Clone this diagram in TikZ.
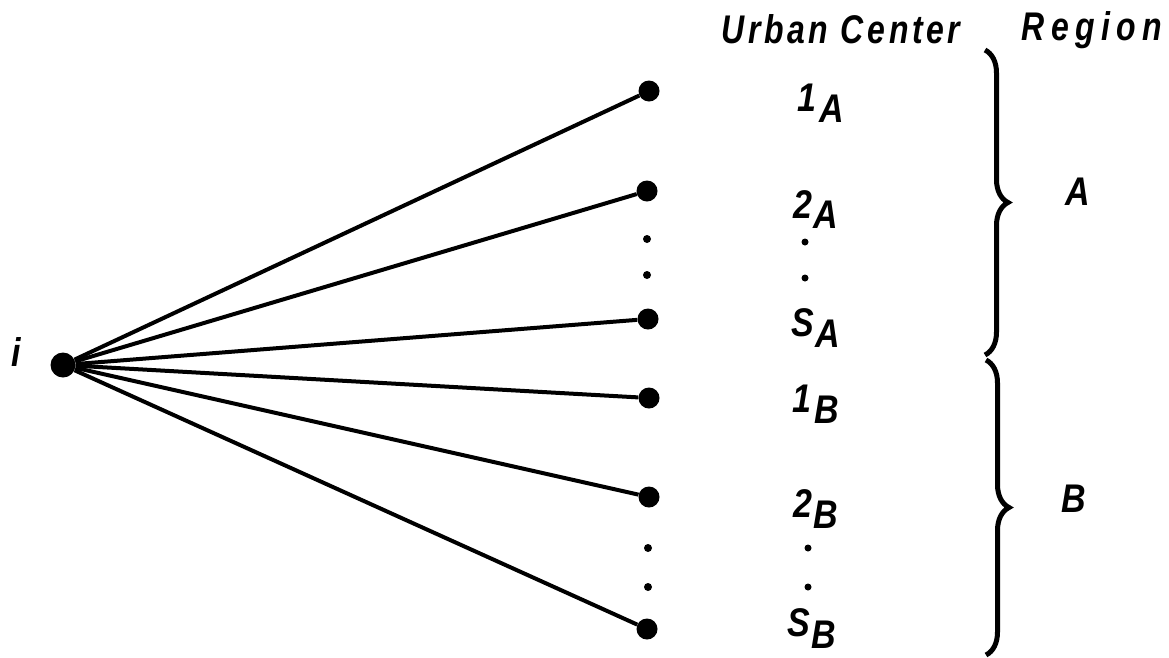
\documentclass[tikz,border=0pt]{standalone}
\usepackage{fontspec}
\setmainfont{Liberation Sans}
\newfontfamily\letterfont{Liberation Sans}[FakeStretch=0.85]
\newfontfamily\headfont{Liberation Sans}[FakeStretch=0.8,LetterSpace=9]
\newfontfamily\wideheadfont{Liberation Sans}[FakeStretch=0.8,LetterSpace=16]
\usetikzlibrary{decorations.pathreplacing}
\begin{document}
\begin{tikzpicture}[x=1pt,y=-1pt,
  hub/.style={circle,fill,inner sep=0,minimum size=25pt},
  site/.style={circle,fill,inner sep=0,minimum size=21pt},
  gap/.style={circle,fill,inner sep=0,minimum size=8pt},
  link/.style={line width=4pt},
  lbl/.style={font=\letterfont\bfseries\itshape\fontsize{40}{44}\selectfont,inner sep=0},
  head/.style={font=\headfont\bfseries\itshape\fontsize{40}{44}\selectfont,inner sep=0},
  widehead/.style={font=\wideheadfont\bfseries\itshape\fontsize{40}{44}\selectfont,inner sep=0},
  bracket/.style={line width=5pt,decorate,decoration={brace,amplitude=23pt}}]
\useasboundingbox (0,0) rectangle (1169,657);

% origin and urban centres
\node[hub] (i) at (63,365) {};
\node[lbl] (ilabel) at (16,352) {i};
\node[site] (a1) at (649,91) {};
\node[site] (a2) at (647,191) {};
\node[site] (as) at (648,319) {};
\node[site] (b1) at (649,398) {};
\node[site] (b2) at (649,497) {};
\node[site] (bs) at (647,629) {};
\node[gap] (ga1) at (647,239) {};
\node[gap] (ga2) at (647,275) {};
\node[gap] (gb1) at (648,548) {};
\node[gap] (gb2) at (648,587) {};

% trip links
\foreach \t in {a1,a2,as,b1,b2,bs}
  \draw[link] (i) -- (\t);

% column headings
\node[head,anchor=base] (hcentre) at (841,43) {Urban Center};
\node[widehead,anchor=base] (hregion) at (1092,40) {Region};

% centre labels
\node[lbl] (l1a) at (821,103) {1\kern3pt\raisebox{-11pt}{A}};
\node[lbl] (l2a) at (816,210) {2\kern1pt\raisebox{-10pt}{A}};
\node[gap,minimum size=7pt] (da1) at (805,242) {};
\node[gap,minimum size=7pt] (da2) at (805,278) {};
\node[lbl] (lsa) at (816,328) {S\kern1pt\raisebox{-11pt}{A}};
\node[lbl] (l1b) at (816,404) {1\kern3pt\raisebox{-11pt}{B}};
\node[lbl] (l2b) at (816,509) {2\kern1pt\raisebox{-11pt}{B}};
\node[gap,minimum size=7pt] (db1) at (808,548) {};
\node[gap,minimum size=7pt] (db2) at (808,587) {};
\node[lbl] (lsb) at (812,629) {S\kern1pt\raisebox{-12pt}{B}};

% region braces
\coordinate (ta) at (985,50);
\coordinate (ba) at (985,355);
\coordinate (tb) at (986,360);
\coordinate (bb) at (986,655);
\draw[bracket] (ta) -- (ba);
\draw[bracket] (tb) -- (bb);
\node[lbl] (ra) at (1078,192) {A};
\node[lbl] (rb) at (1074,499) {B};
\end{tikzpicture}
\end{document}
